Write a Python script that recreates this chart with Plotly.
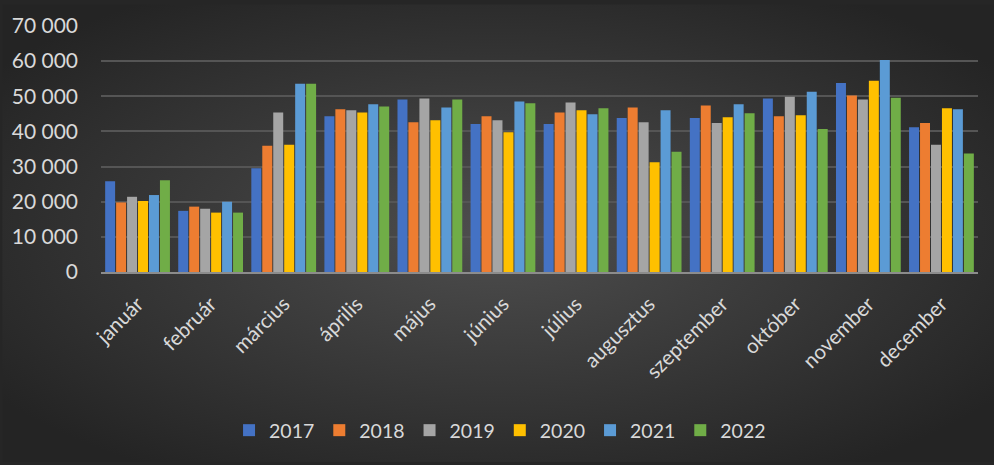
import plotly.graph_objects as go

months = ["január", "február", "március", "április", "május", "június",
          "július", "augusztus", "szeptember", "október", "november", "december"]
years = ["2017", "2018", "2019", "2020", "2021", "2022"]

v2017 = [25800, 17400, 29500, 44300, 49100, 42100, 42100, 43800, 43800, 49400, 53800, 41200]
v2018 = [19800, 18600, 35900, 46300, 42600, 44300, 45400, 46800, 47400, 44300, 50200, 42400]
v2019 = [21400, 18000, 45400, 46000, 49400, 43200, 48200, 42600, 42400, 49900, 49100, 36200]
v2020 = [20200, 16900, 36200, 45400, 43200, 39800, 46000, 31200, 44000, 44600, 54400, 46600]
v2021 = [21900, 20000, 53600, 47700, 46800, 48500, 44900, 46000, 47700, 51300, 60300, 46300]
v2022 = [26100, 16900, 53600, 47100, 49100, 48000, 46600, 34200, 45200, 40700, 49600, 33700]

series = [v2017, v2018, v2019, v2020, v2021, v2022]
colors = ["#4472C4", "#ED7D31", "#A5A5A5", "#FFC000", "#5B9BD5", "#70AD47"]

fig = go.Figure()
for name, vals, c in zip(years, series, colors):
    fig.add_trace(go.Bar(x=months, y=vals, name=name,
                         marker=dict(color=c, line=dict(width=0))))

W, H = 994, 465
L, R, T, B = 99, 16, 22, 193
pw, ph = W - L - R, H - T - B

svg = ("data:image/svg+xml;utf8,"
       "<svg xmlns='http://www.w3.org/2000/svg' width='994' height='465' preserveAspectRatio='none'>"
       "<defs><radialGradient id='g' cx='50%' cy='50%' r='62%'>"
       "<stop offset='0' stop-color='%234e4e4e'/>"
       "<stop offset='1' stop-color='%23242424'/>"
       "</radialGradient></defs>"
       "<rect width='994' height='465' fill='url(%23g)'/></svg>")

fig.add_layout_image(dict(source=svg, xref="paper", yref="paper",
                          x=-L / pw, y=1 + T / ph, sizex=W / pw, sizey=H / ph,
                          sizing="stretch", xanchor="left", yanchor="top",
                          layer="below"))

fig.update_layout(
    width=W, height=H,
    margin=dict(l=L, r=R, t=T, b=B, pad=0),
    paper_bgcolor="#262626",
    plot_bgcolor="rgba(0,0,0,0)",
    barmode="group", bargap=0.1, bargroupgap=0.09,
    separators=", ",
    font=dict(family="Lato", color="#d9d9d9", size=19),
    legend=dict(orientation="h", x=0.455, xanchor="center", y=-0.565, yanchor="top",
                font=dict(size=19.5, color="#d9d9d9"), itemwidth=30,
                bgcolor="rgba(0,0,0,0)", traceorder="normal"),
    xaxis=dict(tickangle=-45, tickfont=dict(size=20.5, color="#d9d9d9"),
               showgrid=False, showline=True, linecolor="#8c8c8c", linewidth=2,
               ticks="", zeroline=False, ticklabelstandoff=10),
    yaxis=dict(range=[0, 70000], dtick=10000, tickformat=",d",
               tickfont=dict(size=21, color="#d9d9d9"),
               showgrid=True, gridcolor="#555555", gridwidth=1.5,
               zeroline=False, ticks="", ticklabelstandoff=22),
)

fig.write_html("out.html", config={"displayModeBar": False},
               post_script="document.body.style.margin='0';document.body.style.overflow='hidden';")
